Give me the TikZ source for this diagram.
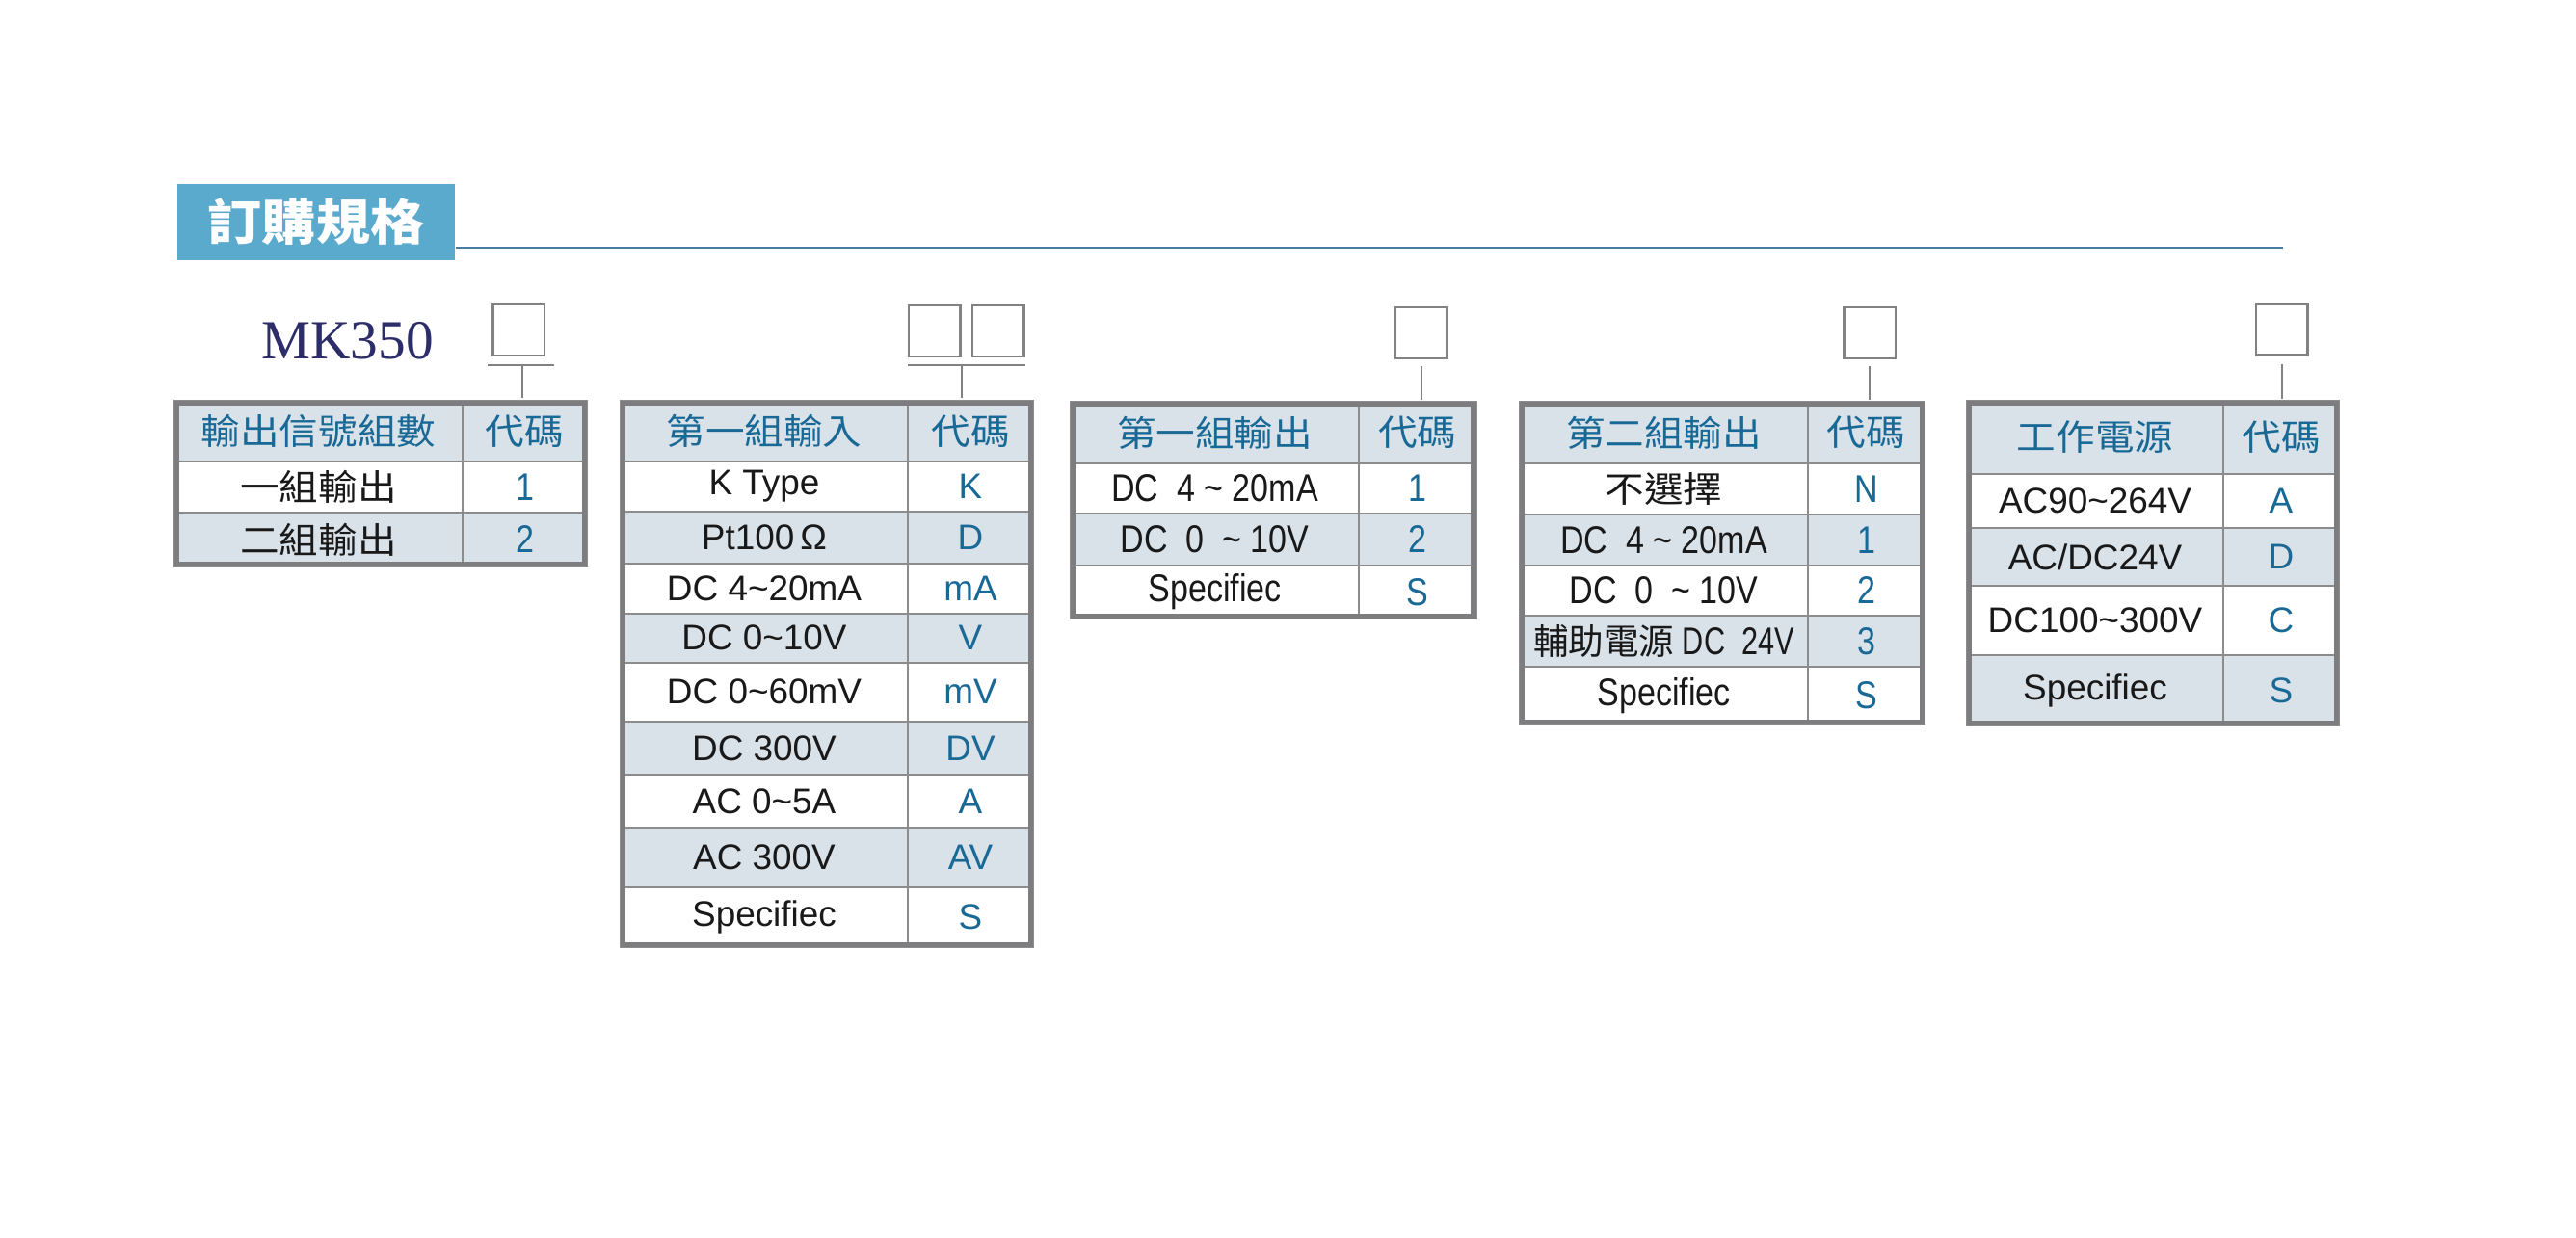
\documentclass[tikz,border=0pt]{standalone}
\usepackage{graphicx}
\usepackage{fontspec}
\setmainfont{Liberation Sans}
\newfontfamily\cjk[FakeStretch=1.1]{Noto Sans CJK TC}
\newfontfamily\narrowfont[FakeStretch=0.85]{Liberation Sans}
\newfontfamily\seriffont{Liberation Serif}
\newcommand{\tld}{\textasciitilde}
\newcommand{\fwide}{\fontsize{10.5}{12}\selectfont}
\newcommand{\fslim}{\narrowfont\fontsize{11.4}{13}\selectfont}
\newcommand{\fzh}{\cjk\fontsize{10.5}{12}\selectfont}

\tikzset{
  cell/.style={draw=gridgrey, line width=0.02cm},
  frame/.style={draw=framegrey, line width=0.055cm},
  head/.style={text=codeblue, font=\fzh},
  lab/.style={text=black!90, font=\fwide},
  labn/.style={text=black!90, font=\fslim},
  code/.style={text=codeblue, font=\fwide},
  coden/.style={text=codeblue, font=\fslim},
  selbox/.style={draw=boxgrey, line width=0.025cm, minimum width=0.535cm, minimum height=0.53cm, inner sep=0pt},
  link/.style={draw=boxgrey, line width=0.02cm},
}

\begin{document}
\begin{tikzpicture}
  \definecolor{titleblue}{RGB}{90,170,205}
  \definecolor{lineblue}{RGB}{70,125,160}
  \definecolor{codeblue}{RGB}{25,105,150}
  \definecolor{shade}{RGB}{217,225,233}
  \definecolor{gridgrey}{RGB}{140,140,140}
  \definecolor{framegrey}{RGB}{125,125,128}
  \definecolor{boxgrey}{RGB}{130,130,130}
  \definecolor{navy}{RGB}{45,45,105}
  \useasboundingbox[fill=white] (0,0) rectangle (26.73,-12.85);

  % title bar and rule
  \node[fill=titleblue, text=white, font=\cjk\bfseries\fontsize{14.5}{16}\selectfont,
        minimum width=2.88cm, minimum height=0.79cm, inner sep=0pt] (title) at (3.28,-2.305) {訂購規格};
  \coordinate (ruleend) at (23.69,-2.57);
  \draw[lineblue, line width=0.02cm] (title.east |- ruleend) -- (ruleend);

  % model name
  \node[anchor=base west, text=navy, font=\seriffont\fontsize{16.3}{18}\selectfont, inner sep=0pt] (model) at (2.71,-3.73) {MK350};

  % selection boxes
  \node[selbox] (sigbox) at (5.38,-3.425) {};
  \node[selbox] (inpboxa) at (9.695,-3.4375) {};
  \node[selbox] (inpboxb) at (10.355,-3.4375) {};
  \node[selbox] (outabox) at (14.745,-3.455) {};
  \node[selbox] (outbbox) at (19.40,-3.455) {};
  \node[selbox] (pwrbox) at (23.675,-3.42) {};

  % table 1: 輸出信號組數
  \filldraw[cell, fill=shade] (1.81,-4.16) rectangle (4.80,-4.79);
  \filldraw[cell, fill=shade] (4.80,-4.16) rectangle (6.09,-4.79);
  \node[head] (sig-l0) at (3.305,-4.475) {輸出信號組數};
  \node[head] (sig-c0) at (5.445,-4.475) {代碼};
  \foreach \ya/\yb/\col/\lab/\cod [count=\i] in {
    4.79/5.32/white/一組輸出/1,
    5.32/5.88/shade/二組輸出/2}{
    \filldraw[cell, fill=\col] (1.81,-\ya) rectangle (4.80,-\yb);
    \filldraw[cell, fill=\col] (4.80,-\ya) rectangle (6.09,-\yb);
    \node[labn] (sig-l\i) at (3.305,{-(\ya+\yb)/2}) {\fzh\lab};
    \node[coden] (sig-c\i) at (5.445,{-(\ya+\yb)/2}) {\cod};
  }
  \draw[frame] (1.835,-4.185) rectangle (6.065,-5.855);

  % table 2: 第一組輸入
  \filldraw[cell, fill=shade] (6.44,-4.16) rectangle (9.42,-4.79);
  \filldraw[cell, fill=shade] (9.42,-4.16) rectangle (10.72,-4.79);
  \node[head] (inp-l0) at (7.93,-4.475) {第一組輸入};
  \node[head] (inp-c0) at (10.07,-4.475) {代碼};
  \foreach \ya/\yb/\col/\lab/\cod [count=\i] in {
    4.79/5.31/white/K Type/K,
    5.31/5.85/shade/Pt100\,Ω/D,
    5.85/6.37/white/DC 4\tld20mA/mA,
    6.37/6.875/shade/DC 0\tld10V/V,
    6.875/7.49/white/DC 0\tld60mV/mV,
    7.49/8.04/shade/DC 300V/DV,
    8.04/8.59/white/AC 0\tld5A/A,
    8.59/9.205/shade/AC 300V/AV,
    9.205/9.83/white/Specifiec/S}{
    \filldraw[cell, fill=\col] (6.44,-\ya) rectangle (9.42,-\yb);
    \filldraw[cell, fill=\col] (9.42,-\ya) rectangle (10.72,-\yb);
    \node[lab] (inp-l\i) at (7.93,{-(\ya+\yb)/2}) {\lab};
    \node[code] (inp-c\i) at (10.07,{-(\ya+\yb)/2}) {\cod};
  }
  \draw[frame] (6.465,-4.185) rectangle (10.695,-9.805);

  % table 3: 第一組輸出
  \filldraw[cell, fill=shade] (11.11,-4.17) rectangle (14.10,-4.81);
  \filldraw[cell, fill=shade] (14.10,-4.17) rectangle (15.315,-4.81);
  \node[head] (outa-l0) at (12.605,-4.49) {第一組輸出};
  \node[head] (outa-c0) at (14.7075,-4.49) {代碼};
  \foreach \ya/\yb/\col/\lab/\cod [count=\i] in {
    4.81/5.33/white/DC\ \ 4 \tld\ 20mA/1,
    5.33/5.87/shade/DC\ \ 0\ \ \tld\ 10V/2,
    5.87/6.42/white/Specifiec/S}{
    \filldraw[cell, fill=\col] (11.11,-\ya) rectangle (14.10,-\yb);
    \filldraw[cell, fill=\col] (14.10,-\ya) rectangle (15.315,-\yb);
    \node[labn] (outa-l\i) at (12.605,{-(\ya+\yb)/2}) {\lab};
    \node[coden] (outa-c\i) at (14.7075,{-(\ya+\yb)/2}) {\cod};
  }
  \draw[frame] (11.135,-4.195) rectangle (15.29,-6.395);

  % table 4: 第二組輸出
  \filldraw[cell, fill=shade] (15.77,-4.17) rectangle (18.76,-4.81);
  \filldraw[cell, fill=shade] (18.76,-4.17) rectangle (19.97,-4.81);
  \node[head] (outb-l0) at (17.265,-4.49) {第二組輸出};
  \node[head] (outb-c0) at (19.365,-4.49) {代碼};
  \foreach \ya/\yb/\col/\lab/\cod [count=\i] in {
    4.81/5.34/white/{\fzh 不選擇}/N,
    5.34/5.87/shade/DC\ \ 4 \tld\ 20mA/1,
    5.87/6.39/white/DC\ \ 0\ \ \tld\ 10V/2,
    6.39/6.92/shade/{\scalebox{0.9}[1]{{\fzh 輔助電源} DC\ \ 24V}}/3,
    6.92/7.52/white/Specifiec/S}{
    \filldraw[cell, fill=\col] (15.77,-\ya) rectangle (18.76,-\yb);
    \filldraw[cell, fill=\col] (18.76,-\ya) rectangle (19.97,-\yb);
    \node[labn] (outb-l\i) at (17.265,{-(\ya+\yb)/2}) {\lab};
    \node[coden] (outb-c\i) at (19.365,{-(\ya+\yb)/2}) {\cod};
  }
  \draw[frame] (15.795,-4.195) rectangle (19.945,-7.495);

  % table 5: 工作電源
  \filldraw[cell, fill=shade] (20.41,-4.16) rectangle (23.07,-4.92);
  \filldraw[cell, fill=shade] (23.07,-4.16) rectangle (24.27,-4.92);
  \node[head] (pwr-l0) at (21.74,-4.54) {工作電源};
  \node[head] (pwr-c0) at (23.67,-4.54) {代碼};
  \foreach \ya/\yb/\col/\lab/\cod [count=\i] in {
    4.92/5.48/white/AC90\tld264V/A,
    5.48/6.08/shade/{AC/DC24V}/D,
    6.08/6.80/white/DC100\tld300V/C,
    6.80/7.53/shade/Specifiec/S}{
    \filldraw[cell, fill=\col] (20.41,-\ya) rectangle (23.07,-\yb);
    \filldraw[cell, fill=\col] (23.07,-\ya) rectangle (24.27,-\yb);
    \node[lab] (pwr-l\i) at (21.74,{-(\ya+\yb)/2}) {\lab};
    \node[code] (pwr-c\i) at (23.67,{-(\ya+\yb)/2}) {\cod};
  }
  \draw[frame] (20.435,-4.185) rectangle (24.245,-7.505);

  % leader lines from the boxes down to the tables
  \coordinate (sigbar) at (5.415,-3.79);
  \coordinate (sigtop) at (5.415,-4.13);
  \coordinate (inpbar) at (9.98,-3.795);
  \coordinate (inptop) at (9.98,-4.13);
  \coordinate (outatop) at (14.745,-4.15);
  \coordinate (outbtop) at (19.40,-4.15);
  \coordinate (pwrtop) at (23.675,-4.14);
  \draw[link] ([xshift=-0.04cm]sigbox.south west |- sigbar) -- ([xshift=0.09cm]sigbox.south east |- sigbar);
  \draw[link] (sigbar) -- (sigtop);
  \draw[link] (inpboxa.south west |- inpbar) -- (inpboxb.south east |- inpbar);
  \draw[link] (inpbar) -- (inptop);
  \draw[link] ([yshift=-0.07cm]outabox.south) -- (outatop);
  \draw[link] ([yshift=-0.07cm]outbbox.south) -- (outbtop);
  \draw[link] ([yshift=-0.08cm]pwrbox.south) -- (pwrtop);
\end{tikzpicture}
\end{document}
